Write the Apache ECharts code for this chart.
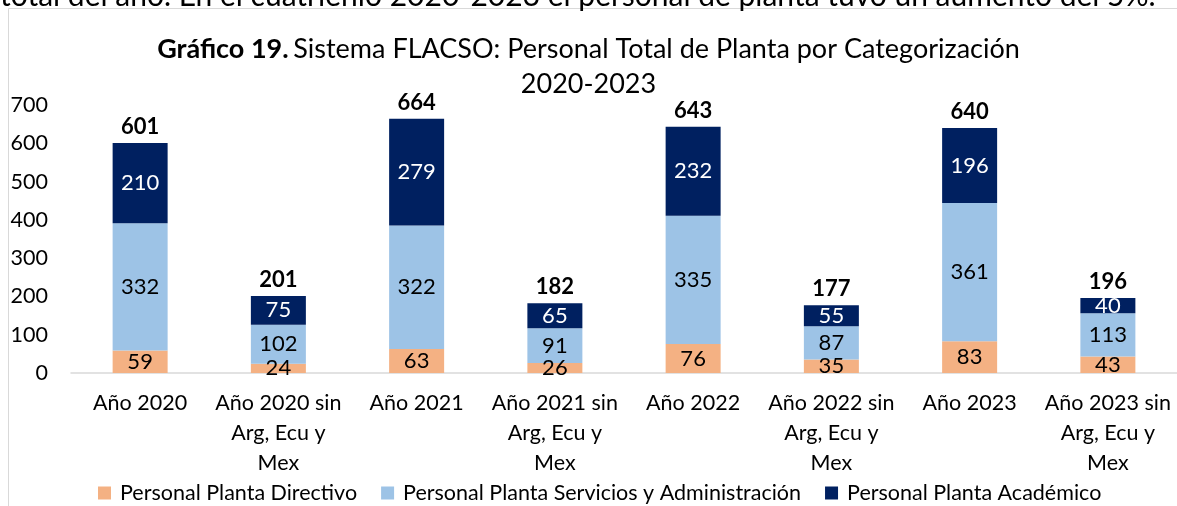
<!DOCTYPE html>
<html>
<head>
<meta charset="utf-8">
<script src="https://cdn.jsdelivr.net/npm/echarts@6/dist/echarts.min.js"></script>
<style>
  html, body { margin: 0; padding: 0; background: #fff; }
  #chart { width: 1177px; height: 506px; }
</style>
</head>
<body>
<div id="chart"></div>
<script>
const categories = [
  "Año 2020", "Año 2020 sin\nArg, Ecu y\nMex",
  "Año 2021", "Año 2021 sin\nArg, Ecu y\nMex",
  "Año 2022", "Año 2022 sin\nArg, Ecu y\nMex",
  "Año 2023", "Año 2023 sin\nArg, Ecu y\nMex"
];
const directivo = [59, 24, 63, 26, 76, 35, 83, 43];
const servicios = [332, 102, 322, 91, 335, 87, 361, 113];
const academico = [210, 75, 279, 65, 232, 55, 196, 40];
const totales = [601, 201, 664, 182, 643, 177, 640, 196];
const yTicks = [0, 100, 200, 300, 400, 500, 600, 700];

const FONT = "Lato";

const chart = echarts.init(document.getElementById("chart"));

function stackSeries(name, data, color, labelColor) {
  return {
    name: name,
    type: "bar",
    stack: "total",
    data: data,
    barWidth: 55,
    itemStyle: { color: color },
    label: {
      show: true,
      position: "inside",
      color: labelColor,
      fontFamily: FONT,
      fontSize: 22
    }
  };
}

chart.setOption({
  animation: false,
  backgroundColor: "#fff",
  textStyle: { fontFamily: FONT },
  graphic: [
    // last line of the paragraph above the chart, cut off by the page edge
    {
      type: "text",
      left: 0,
      top: -19,
      style: {
        text: "total del año. En el cuatrienio 2020-2023 el personal de planta tuvo un aumento del 5%.",
        fontFamily: FONT,
        fontSize: 30,
        fill: "#000"
      }
    },
    {
      type: "rect",
      shape: { x: 8.5, y: 8.5, width: 1300, height: 600 },
      style: { fill: "#fff", stroke: "#d9d9d9", lineWidth: 1 },
      z: -1,
      silent: true
    }
  ],
  title: {
    left: "center",
    top: 27,
    text: "{b|Gráfico 19.} {n|Sistema FLACSO: Personal Total de Planta por Categorización}\n{n|2020-2023}",
    textStyle: {
      fontWeight: "normal",
      rich: {
        b: { fontFamily: FONT, fontSize: 27, fontWeight: "bold", color: "#000", lineHeight: 35 },
        n: { fontFamily: FONT, fontSize: 27, fontWeight: "normal", color: "#000", lineHeight: 35 }
      }
    }
  },
  legend: {
    bottom: -3,
    left: 93,
    itemWidth: 13,
    itemHeight: 13,
    itemGap: 24,
    icon: "rect",
    data: ["Personal Planta Directivo", "Personal Planta Servicios y Administración", "Personal Planta Académico"],
    textStyle: { fontFamily: FONT, fontSize: 21.5, color: "#000", padding: [0, 0, 0, 4] }
  },
  grid: { left: 71, right: -4, top: 105, bottom: 133, containLabel: false },
  xAxis: {
    type: "category",
    data: categories,
    axisLine: { lineStyle: { color: "#d9d9d9", width: 1.5 } },
    axisTick: { show: false },
    axisLabel: {
      interval: 0,
      margin: 15,
      fontFamily: FONT,
      fontSize: 21.5,
      color: "#000",
      lineHeight: 30
    }
  },
  yAxis: {
    type: "value",
    min: yTicks[0],
    max: yTicks[yTicks.length - 1],
    interval: 100,
    splitLine: { show: false },
    axisLine: { show: false },
    axisTick: { show: false },
    axisLabel: { margin: 23, fontFamily: FONT, fontSize: 21.5, color: "#000" }
  },
  series: [
    stackSeries("Personal Planta Directivo", directivo, "#F4B183", "#000"),
    stackSeries("Personal Planta Servicios y Administración", servicios, "#9DC3E6", "#000"),
    stackSeries("Personal Planta Académico", academico, "#002060", "#fff"),
    {
      name: "Total",
      type: "bar",
      data: totales,
      barWidth: 55,
      barGap: "-100%",
      z: 1,
      itemStyle: { color: "rgba(0,0,0,0)" },
      label: {
        show: true,
        position: "top",
        distance: 5,
        color: "#000",
        fontFamily: FONT,
        fontSize: 22,
        fontWeight: "bold"
      },
      silent: true
    }
  ]
});
</script>
</body>
</html>
